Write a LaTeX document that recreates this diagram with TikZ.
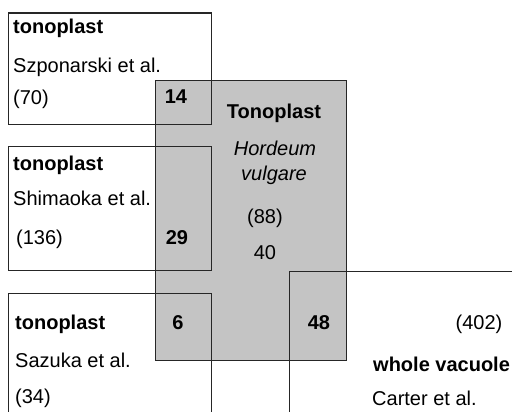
\documentclass[tikz,border=0pt]{standalone}
\usepackage{fontspec}
\setmainfont{Liberation Sans}
\usetikzlibrary{positioning}

\begin{document}
\begin{tikzpicture}[x=1pt, y=-1pt,
      core/.style={fill=black!23, draw=black!85, line width=1.2pt,
        anchor=north west, inner sep=0pt},
      study/.style={draw=black!85, line width=1.2pt, anchor=north west,
        inner sep=0pt},
      txt/.style={inner sep=0pt, text height=14pt, text depth=4pt,
        font=\fontsize{20}{24}\selectfont, text=black},
      head/.style={txt, anchor=west, font=\fontsize{20}{24}\selectfont\bfseries},
      ref/.style={txt, anchor=west},
      cnt/.style={txt, font=\fontsize{20}{24}\selectfont\bfseries},
    ]
    \path[use as bounding box, clip] (0,0) rectangle (512,412);
    % shared tonoplast set
    \node[core, minimum width=191pt, minimum height=279.5pt] (barley) at (154.5,80) {};
    % literature sets
    \node[study, minimum width=203pt, minimum height=111.5pt] (szp) at (7.5,12.5) {};
    \node[study, minimum width=203pt, minimum height=124pt] (shi) at (7.5,146) {};
    \node[study, minimum width=203pt, minimum height=140pt] (saz) at (7.5,293) {};
    \node[study, minimum width=245pt, minimum height=160pt] (car) at (288.5,270.7) {};

    \node[head] (szpH) at (13,29)  {tonoplast};
    \node[ref]  (szpA) at (13,68)  {Szponarski et al.};
    \node[ref]  (szpN) at (13,100) {(70)};

    \node[head] (shiH) at (13,165) {tonoplast};
    \node[ref]  (shiA) at (13,200) {Shimaoka et al.};
    \node[ref]  (shiN) at (16,239) {(136)};

    \node[head] (sazH) at (15,324) {tonoplast};
    \node[ref]  (sazA) at (15,362) {Sazuka et al.};
    \node[ref]  (sazN) at (15,398) {(34)};

    \node[cnt] (o14) at (176,98)  {14};
    \node[cnt] (o29) at (177,239) {29};
    \node[cnt] (o6)  at (178,324) {6};
    \node[cnt] (o48) at (319,324) {48};

    \node[cnt] (barH) at (274,114) {Tonoplast};
    \node[txt, font=\fontsize{20}{24}\selectfont\itshape] (barS1) at (275,151) {Hordeum};
    \node[txt, font=\fontsize{20}{24}\selectfont\itshape] (barS2) at (274,175) {vulgare};
    \node[txt] (barN) at (265,218) {(88)};
    \node[txt] (barU) at (265,254) {40};

    \node[txt] (carN) at (479,324) {(402)};
    \node[head] (carH) at (373,366) {whole vacuole};
    \node[ref]  (carA) at (372,400) {Carter et al.};
  \end{tikzpicture}
\end{document}
